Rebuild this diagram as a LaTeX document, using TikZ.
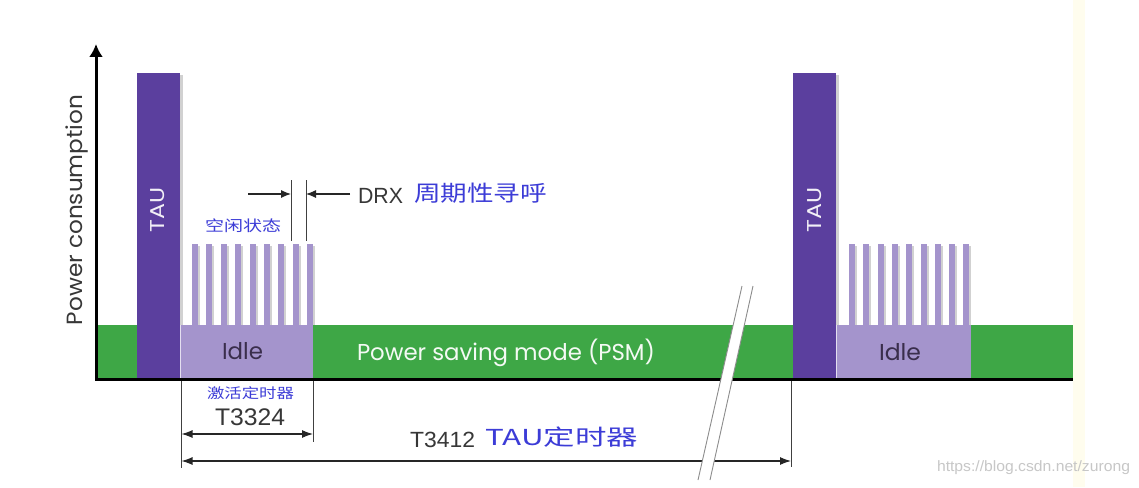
\documentclass[tikz,border=0pt]{standalone}
\usepackage{fontspec}
\usepackage{graphicx}
\setmainfont{Liberation Sans}
\newfontfamily\pop{Poppins}
\newfontfamily\cjk{Noto Sans CJK SC}
\usetikzlibrary{arrows.meta}
\definecolor{taupurple}{RGB}{91,63,158}
\definecolor{idlelav}{RGB}{164,148,204}
\definecolor{psmgreen}{RGB}{62,167,70}
\definecolor{cnblue}{RGB}{60,60,215}
\definecolor{darktxt}{RGB}{55,55,55}
\definecolor{idletxt}{RGB}{58,46,76}
\definecolor{cream}{RGB}{255,253,238}
\newcommand{\fw}[2]{\resizebox{#1}{\height}{#2}}
\newcommand{\fs}[1]{\fontsize{#1}{#1}\selectfont}
\tikzset{
  lbl/.style={inner sep=0pt, outer sep=0pt},
  dimline/.style={draw=black!75, line width=0.8pt},
  dimarrow/.style={draw=black!85, line width=1.1pt, {Latex[length=11pt,width=8pt]}-{Latex[length=11pt,width=8pt]}},
  onearrow/.style={draw=black!85, line width=1.1pt, -{Latex[length=10pt,width=8pt]}},
  breakline/.style={draw=black!45, line width=0.9pt},
  combbar/.style={fill=idlelav},
  shade/.style={fill=black!18},
}
\begin{document}
\begin{tikzpicture}[x=1pt,y=-1pt]
\useasboundingbox (0,0) rectangle (1139,487);
\fill[white] (0,0) rectangle (1139,487);
\fill[cream] (1073,0) rectangle (1085,487);

% green PSM band
\fill[psmgreen] (98,325) rectangle (1073,378);

% TAU bars with shadows
\fill[shade] (180,75) rectangle (183,325);
\fill[taupurple] (137,73) rectangle (180,378);
\fill[shade] (836,75) rectangle (839,325);
\fill[taupurple] (793,73) rectangle (836,378);

% idle boxes and combs
\fill[idlelav] (180,325) rectangle (313,378);
\fill[idlelav] (836,325) rectangle (971,378);
\foreach \i in {0,...,8} {
  \fill[shade] ({198+\i*14.4},246) rectangle ({200+\i*14.4},325);
  \fill[combbar] ({192+\i*14.4},244) rectangle ({198+\i*14.4},325);
  \fill[shade] ({855+\i*14.3},246) rectangle ({857+\i*14.3},325);
  \fill[combbar] ({849+\i*14.3},244) rectangle ({855+\i*14.3},325);
}
\draw[white!70!idlelav, line width=0.6pt] (180.3,325) -- (180.3,378);
\draw[white!70!idlelav, line width=0.6pt] (836.3,325) -- (836.3,378);

% axes
\coordinate (origin) at (96,379);
\coordinate (ytop) at (96,44);
\coordinate (xend) at (1073,379);
\draw[line width=3pt] (origin) -- (xend);
\draw[line width=3pt, -{Latex[length=13pt,width=14pt]}] (96,380.5) -- (ytop);

% DRX marker
\coordinate (drxA) at (291,180);
\coordinate (drxAb) at (291,241);
\coordinate (drxB) at (306,180);
\coordinate (drxBb) at (306,241);
\draw[dimline] (drxA) -- (drxAb);
\draw[dimline] (drxB) -- (drxBb);
\coordinate (drxL0) at (248,194);
\coordinate (drxL1) at (291,194);
\coordinate (drxR0) at (350,194);
\coordinate (drxR1) at (306,194);
\draw[onearrow] (drxL0) -- (drxL1);
\draw[onearrow] (drxR0) -- (drxR1);

% dimension lines
\coordinate (v1t) at (181.5,381);
\coordinate (v1b) at (181.5,468);
\coordinate (v2t) at (313,381);
\coordinate (v2b) at (313,442);
\coordinate (v3t) at (791,381);
\coordinate (v3b) at (791,467);
\draw[dimline] (v1t) -- (v1b);
\draw[dimline] (v2t) -- (v2b);
\draw[dimline] (v3t) -- (v3b);
\coordinate (a1L) at (181.5,434);
\coordinate (a1R) at (313,434);
\coordinate (a2L) at (181.5,461);
\coordinate (a2R) at (791,461);
\draw[dimarrow] (a1L) -- (a1R);
\draw[dimarrow] (a2L) -- (a2R);

% break mark
\fill[white] (742,286) -- (753,286) -- (710,480) -- (698,480) -- cycle;
\coordinate (bk1t) at (742,286);
\coordinate (bk1b) at (698,480);
\coordinate (bk2t) at (753,286);
\coordinate (bk2b) at (710,480);
\draw[breakline] (bk1t) -- (bk1b);
\draw[breakline] (bk2t) -- (bk2b);

% labels
\node[lbl, rotate=90, text=darktxt] (ylabel) at (77,210) {\pop\fs{22pt}\fw{230pt}{Power consumption}};
\node[lbl, rotate=90, text=white!92!taupurple] (tau1) at (158,210) {\pop\fs{20pt}\fw{45pt}{TAU}};
\node[lbl, rotate=90, text=white!92!taupurple] (tau2) at (814.5,210) {\pop\fs{20pt}\fw{45pt}{TAU}};
\node[lbl, anchor=base, text=idletxt] (idle1) at (242.5,359) {\pop\fs{23pt}\fw{41pt}{Idle}};
\node[lbl, anchor=base, text=idletxt] (idle2) at (900,360) {\pop\fs{23pt}\fw{42pt}{Idle}};
\node[lbl, anchor=base, text=white!94!psmgreen] (psm) at (506,360) {\pop\fs{23pt}\fw{298pt}{Power saving mode (PSM)}};
\node[lbl, anchor=base, text=darktxt] (drx) at (380.5,203) {\fs{22pt}\fw{45pt}{DRX}};
\node[lbl, text=cnblue] (drxcn) at (480.5,193) {\cjk\fs{22pt}\fw{133pt}{周期性寻呼}};
\node[lbl, text=cnblue] (idlecn) at (243,226) {\cjk\fs{15pt}\fw{76pt}{空闲状态}};
\node[lbl, text=cnblue] (t3324cn) at (250.5,393.5) {\cjk\fs{14pt}\fw{87pt}{激活定时器}};
\node[lbl, anchor=base, text=darktxt] (t3324) at (250,425) {\fs{24pt}\fw{70pt}{T3324}};
\node[lbl, anchor=base, text=darktxt] (t3412) at (442.5,447) {\fs{22pt}\fw{65pt}{T3412}};
\node[lbl, text=cnblue] (t3412cn) at (561.5,437.5) {\cjk\fs{22pt}\fw{153pt}{TAU定时器}};
\node[lbl, text=black!22] (wm) at (1033.5,468) {\fs{15pt}\fw{193pt}{https://blog.csdn.net/zurong}};
\end{tikzpicture}
\end{document}
